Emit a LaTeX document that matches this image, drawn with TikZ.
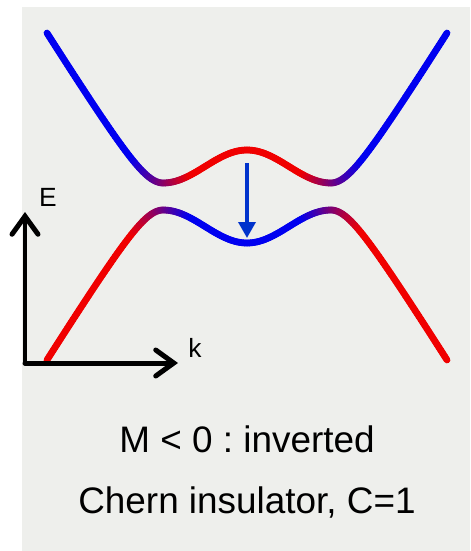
\documentclass[tikz,border=0pt]{standalone}
\usepackage{fontspec}
\setmainfont{Liberation Sans}
\usepackage{xcolor}
\usetikzlibrary{arrows.meta,positioning,calc}
\definecolor{panel}{HTML}{EEEFEC}
\definecolor{gapblue}{HTML}{0033CC}
\definecolor{bandblue}{HTML}{0000F0}
\definecolor{bandred}{HTML}{F00000}
\frenchspacing

\begin{document}
\begin{tikzpicture}[
      x=0.02cm, y=-0.02cm,
      declare function={
        bandE(\x)=ifthenelse(abs(\x)<84, 46.5-16.5*(1-cos(2.142857*\x)), -26.5+40*sqrt(1+0.0016*(abs(\x)-84)*(abs(\x)-84)));
      },
      band/.style={line width=0.135cm,line cap=round},
      axis/.style={line width=0.1cm,line cap=round,-{Straight Barb[length=0.36cm,width=0.52cm,line cap=round]}},
      gaparrow/.style={gapblue,line width=0.07cm,-{Triangle[length=0.32cm,width=0.34cm]}},
      label/.style={font=\fontsize{15}{17}\selectfont},
      caption/.style={font=\fontsize{21}{25}\selectfont}
  ]
    \useasboundingbox (0,0) rectangle (470,551);
    \fill[panel] (22,7) rectangle (470,551);

    % conduction and valence bands, colour by orbital weight
    \foreach \i in {-100,...,99}{
      \pgfmathsetmacro{\xa}{2*\i}
      \pgfmathsetmacro{\xb}{2*\i+2}
      \pgfmathsetmacro{\ea}{bandE(\xa)}
      \pgfmathsetmacro{\eb}{bandE(\xb)}
      \pgfmathtruncatemacro{\mix}{100*min(1,max(0,(abs(\xa+1)-55)/60))}
      \draw[band,bandblue!\mix!bandred] ({247+\xa},{196.5-\ea}) -- ({247+\xb},{196.5-\eb});
      \draw[band,bandred!\mix!bandblue] ({247+\xa},{196.5+\ea}) -- ({247+\xb},{196.5+\eb});
    }

    % axes
    \coordinate (origin) at (25,363);
    \coordinate (etip) at (25,212);
    \coordinate (ktip) at (178,363);
    \draw[axis] (origin) -- (etip);
    \draw[axis] (origin) -- (ktip);
    \node[label] (elabel) at (48,197) {E};
    \node[label] (klabel) at (195,348) {k};

    % band inversion
    \coordinate (gaptop) at (247,163);
    \coordinate (gapbot) at (247,238);
    \draw[gaparrow] (gaptop) -- (gapbot);

    \node[caption] (mlabel) at (247,439) {M < 0 : inverted};
    \node[caption] (clabel) at (247,502) {Chern insulator, C=1};
  \end{tikzpicture}
\end{document}
